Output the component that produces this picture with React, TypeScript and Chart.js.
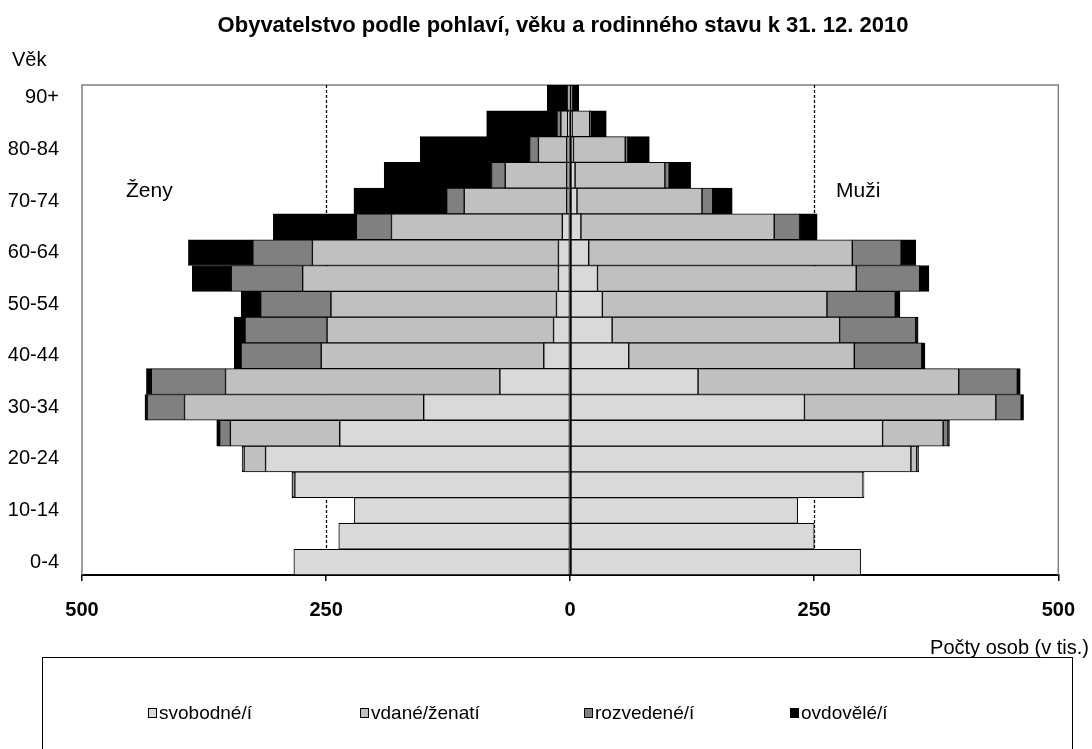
import React, { useEffect, useRef } from 'react';
import { Chart, registerables } from 'chart.js';

Chart.register(...registerables);

const FONT = '"Liberation Sans", Arial, sans-serif';

const ageGroups = ['0-4', '5-9', '10-14', '15-19', '20-24', '25-29', '30-34', '35-39', '40-44', '45-49', '50-54', '55-59', '60-64', '65-69', '70-74', '75-79', '80-84', '85-89', '90+'];
const seriesNames = ['svobodné/í', 'vdané/ženatí', 'rozvedené/í', 'ovdovělé/í'];
const seriesColors = ['#D9D9D9', '#C0C0C0', '#808080', '#000000'];

// Women (thousands)
const womenSingle = [283, 237, 221, 282, 312, 236, 150, 72, 27, 17, 14, 12, 12, 8, 3.5, 3.5, 3.5, 2.5, 1];
const womenMarried = [0, 0, 0, 2, 22, 112, 245, 281, 228, 232, 231, 262, 252, 175, 105, 63, 29, 7, 1];
const womenDivorced = [0, 0, 0, 0, 1, 11, 38, 76, 82, 84, 72, 73, 61, 36, 18, 14, 9, 4, 0.5];
const womenWidowed = [0, 0, 0, 1, 1, 3, 2.5, 5, 7, 11, 20, 40, 66, 85, 95, 110, 112, 72, 21];

// Men (thousands)
const menSingle = [297.5, 250, 233, 300, 349, 320, 240, 131, 60, 43, 33, 28, 19, 11, 7, 5, 3.4, 2, 0.5];
const menMarried = [0, 0, 0, 0.5, 6, 62, 196, 267, 231, 233, 230, 265, 270, 198, 128, 92, 53, 18, 2];
const menDivorced = [0, 0, 0, 0, 1, 5, 26, 60, 69, 78, 70, 65, 50, 26, 11, 4.4, 2.7, 1, 0.3];
const menWidowed = [0, 0, 0, 0.5, 1, 1.5, 2.4, 3, 3.4, 2.4, 4.8, 9.5, 15, 18, 20, 22, 22, 16, 6];

const xMin = -500;
const xMax = 500;
const xStep = 250;
const guideValues = [-250, 250];

const titleText = 'Obyvatelstvo podle pohlaví, věku a rodinného stavu k 31. 12. 2010';
const yAxisTitle = 'Věk';
const xAxisTitle = 'Počty osob (v tis.)';
const womenLabel = 'Ženy';
const menLabel = 'Muži';

const womenSeries = [womenSingle, womenMarried, womenDivorced, womenWidowed];
const menSeries = [menSingle, menMarried, menDivorced, menWidowed];

const decorPlugin = {
  id: 'decor',
  beforeDatasetsDraw(chart: any) {
    const { ctx, chartArea: a, scales } = chart;
    const x = scales.x;
    ctx.save();
    // plot area border (gray)
    ctx.strokeStyle = '#808080';
    ctx.lineWidth = 1.5;
    ctx.beginPath();
    ctx.moveTo(a.left, a.bottom);
    ctx.lineTo(a.left, a.top);
    ctx.lineTo(a.right, a.top);
    ctx.lineTo(a.right, a.bottom);
    ctx.stroke();
    // dashed guides
    ctx.strokeStyle = '#000';
    ctx.lineWidth = 1.3;
    ctx.setLineDash([3, 2]);
    for (const v of guideValues) {
      const px = Math.round(x.getPixelForValue(v)) + 0.5;
      ctx.beginPath();
      ctx.moveTo(px, a.top);
      ctx.lineTo(px, a.bottom);
      ctx.stroke();
    }
    ctx.restore();
  },
  afterDatasetsDraw(chart: any) {
    const { ctx, chartArea: a, scales } = chart;
    const px = Math.round(scales.x.getPixelForValue(0)) + 0.5;
    ctx.save();
    ctx.strokeStyle = '#000';
    ctx.lineWidth = 1.5;
    ctx.beginPath();
    ctx.moveTo(px, a.top);
    ctx.lineTo(px, a.bottom);
    ctx.stroke();
    ctx.restore();
  },
  afterDraw(chart: any) {
    const { ctx } = chart;
    ctx.save();
    ctx.fillStyle = '#000';
    ctx.textBaseline = 'alphabetic';
    // title
    ctx.font = `bold 22px ${FONT}`;
    ctx.textAlign = 'center';
    ctx.fillText(titleText, 563, 32);
    // axis captions
    ctx.font = `20px ${FONT}`;
    ctx.textAlign = 'left';
    ctx.fillText(yAxisTitle, 12, 66);
    ctx.textAlign = 'right';
    ctx.fillText(xAxisTitle, 1089, 654);
    // sex labels
    ctx.font = `21px ${FONT}`;
    ctx.textAlign = 'left';
    ctx.fillText(womenLabel, 126, 197);
    ctx.fillText(menLabel, 836, 197);
    // legend box
    ctx.strokeStyle = '#000';
    ctx.lineWidth = 1;
    ctx.strokeRect(42.5, 657.5, 1030, 120);
    const itemX = [148, 360, 584, 790];
    const cy = 713;
    ctx.font = `19px ${FONT}`;
    ctx.textBaseline = 'middle';
    seriesNames.forEach((name, i) => {
      ctx.fillStyle = seriesColors[i];
      ctx.fillRect(itemX[i], cy - 5, 9, 10);
      ctx.strokeStyle = '#000';
      ctx.strokeRect(itemX[i] + 0.5, cy - 5 + 0.5, 8, 9);
      ctx.fillStyle = '#000';
      ctx.textAlign = 'left';
      ctx.fillText(name, itemX[i] + 11, cy + 1);
    });
    ctx.restore();
  },
};

export default function App() {
  const canvasRef = useRef<HTMLCanvasElement | null>(null);

  useEffect(() => {
    const canvas = canvasRef.current;
    if (!canvas) return;

    const datasets: any[] = [];
    womenSeries.forEach((arr, i) => {
      datasets.push({
        label: 'Ženy ' + seriesNames[i],
        data: arr.map((v) => (v === 0 ? null : -v)),
        backgroundColor: seriesColors[i],
        borderColor: '#000',
        borderWidth: 1,
        borderSkipped: false,
        stack: 'pop',
        barPercentage: 1,
        categoryPercentage: 1,
      });
    });
    menSeries.forEach((arr, i) => {
      datasets.push({
        label: 'Muži ' + seriesNames[i],
        data: arr.map((v) => (v === 0 ? null : v)),
        backgroundColor: seriesColors[i],
        borderColor: '#000',
        borderWidth: 1,
        borderSkipped: false,
        stack: 'pop',
        barPercentage: 1,
        categoryPercentage: 1,
      });
    });

    const chart = new Chart(canvas, {
      type: 'bar',
      data: { labels: ageGroups, datasets },
      options: {
        indexAxis: 'y',
        responsive: false,
        animation: false,
        layout: { padding: { top: 85, right: 32, bottom: 0, left: 0 } },
        plugins: {
          legend: { display: false },
          title: { display: false },
          tooltip: { enabled: false },
        },
        scales: {
          x: {
            type: 'linear',
            stacked: true,
            min: xMin,
            max: xMax,
            ticks: {
              stepSize: xStep,
              autoSkip: false,
              maxRotation: 0,
              padding: 17,
              color: '#000',
              font: { family: FONT, size: 20, weight: 'bold' },
              callback: (v: any) => String(Math.abs(Number(v))),
            },
            grid: {
              drawOnChartArea: false,
              drawTicks: true,
              tickLength: 6,
              color: '#000',
              lineWidth: 1.5,
            },
            border: { display: true, color: '#000', width: 2 },
            afterFit: (s: any) => {
              s.height = 174;
            },
          },
          y: {
            type: 'category',
            stacked: true,
            reverse: true,
            ticks: {
              autoSkip: false,
              padding: 23,
              color: '#000',
              font: { family: FONT, size: 20 },
              callback: (_v: any, i: number) => (i % 2 === 0 ? ageGroups[i] : ''),
            },
            grid: { display: false, drawTicks: false },
            border: { display: false },
            afterFit: (s: any) => {
              s.width = 82;
            },
          },
        },
      } as any,
      plugins: [decorPlugin],
    });

    return () => chart.destroy();
  }, []);

  return (
    <div style={{ position: 'fixed', left: 0, top: 0, width: 1092, height: 749, background: '#fff' }}>
      <canvas ref={canvasRef} width={1092} height={749} style={{ width: 1092, height: 749, display: 'block' }} />
    </div>
  );
}
